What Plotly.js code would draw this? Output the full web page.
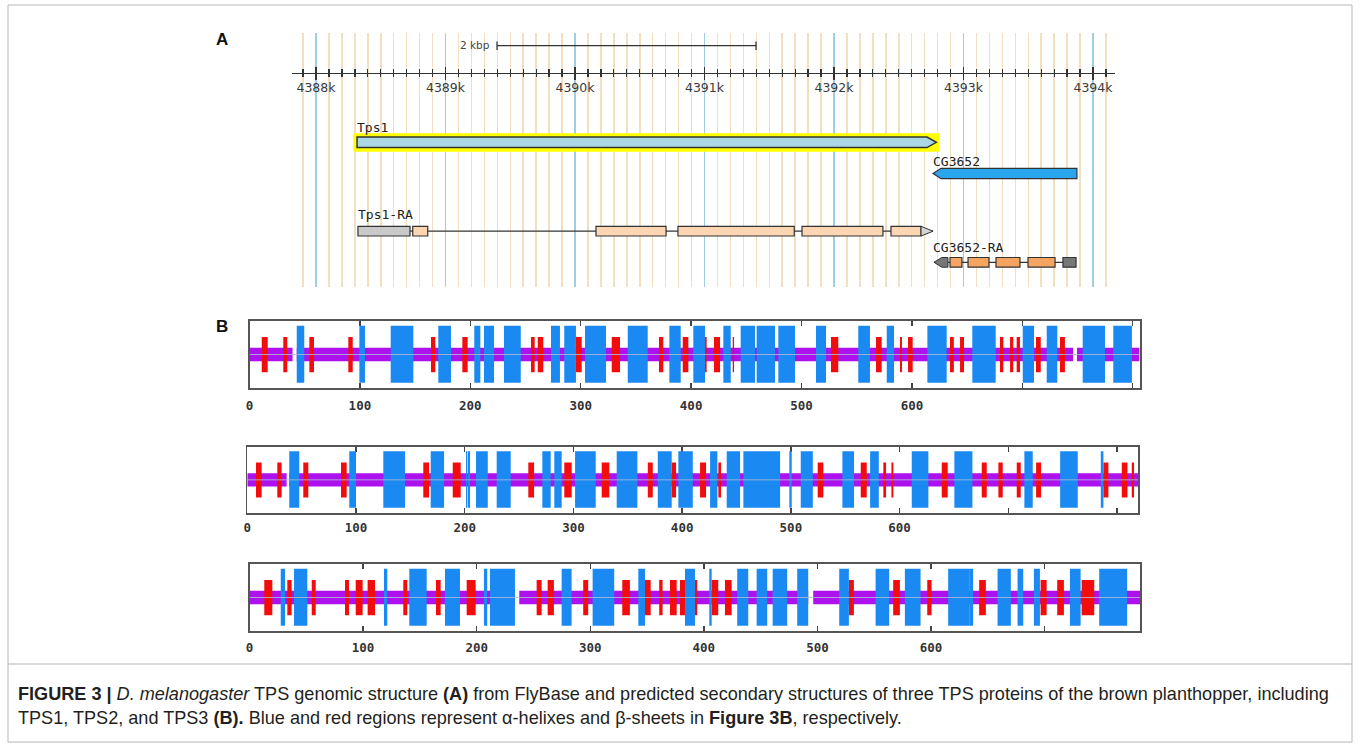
<!DOCTYPE html>
<html>
<head>
<meta charset="utf-8">
<script src="https://cdn.plot.ly/plotly-3.0.1.min.js"></script>
<style>html,body{margin:0;padding:0;background:#fff;}#chart{width:1360px;height:748px;}</style>
</head>
<body>
<div id="chart"></div>
<script>
// ---------- Panel A data (genomic coordinates in kb) ----------
const rulerTickVals = [4388, 4389, 4390, 4391, 4392, 4393, 4394];
const rulerTickLabels = ['4388k', '4389k', '4390k', '4391k', '4392k', '4393k', '4394k'];
const scaleBarKb = [4389.398, 4391.398];
const scaleBarLabel = '2 kbp';

const geneNames = ['Tps1', 'CG3652'];
const geneStart = [4388.317, 4392.765];
const geneEnd = [4392.790, 4393.876];
const geneStrand = ['+', '-'];

const transcriptNames = ['Tps1-RA', 'CG3652-RA'];
const tps1RA_utr5 = [[4388.324, 4388.726]];
const tps1RA_cds = [[4388.747, 4388.863], [4390.162, 4390.703], [4390.795, 4391.693], [4391.753, 4392.378], [4392.440, 4392.672]];
const tps1RA_utr3 = [[4392.672, 4392.765]];
const cg3652RA_utr3 = [[4392.772, 4392.880]];
const cg3652RA_cds = [[4392.896, 4392.988], [4393.035, 4393.197], [4393.251, 4393.436], [4393.498, 4393.707]];
const cg3652RA_utr5 = [[4393.768, 4393.869]];

// ---------- Panel B data (residue positions) ----------
const proteinNames = ['TPS1', 'TPS2', 'TPS3'];
const proteinLength = [806, 820, 784];
const trackTickVals = [0, 100, 200, 300, 400, 500, 600, 700, 800];
const trackTickText = ['0', '100', '200', '300', '400', '500', '600', '', ''];

const helix1 = [[42.8,49.6],[99.5,104.6],[127.9,148.4],[171.0,182.5],[203.6,209.1],[212.4,221.5],[230.5,245.7],[273.1,281.2],[285.1,295.7],[303.9,322.9],[342.6,360.7],[380.3,390.6],[402.0,412.6],[429.2,435.9],[444.9,457.9],[459.4,476.0],[479.0,494.1],[513.1,522.2],[551.4,562.0],[577.2,583.8],[614.0,631.5],[654.7,675.9],[700.4,710.6],[722.1,731.7],[754.7,774.9],[782.4,796.0],[795.7,799.3]];
const strand1 = [[11.1,16.5],[30.6,34.2],[54.2,58.4],[89.5,93.5],[164.4,168.3],[192.8,197.6],[255.0,258.3],[261.1,266.1],[295.7,300.9],[328.1,335.6],[370.9,374.8],[392.4,397.5],[412.6,414.1],[420.7,426.2],[437.7,438.9],[526.7,533.3],[567.5,572.6],[589.2,591.0],[596.5,600.7],[634.5,638.0],[643.6,647.2],[679.8,682.8],[688.9,691.8],[694.9,697.9],[712.4,716.7],[734.1,738.6]];
const coil1 = [[0,39],[42.8,746],[749.5,806]];

const helix2 = [[38.6,47.8],[93.8,100.0],[125.1,145.1],[168.7,181.0],[201.2,202.4],[203.0,204.9],[210.4,221.2],[229.4,242.3],[271.4,279.1],[282.4,289.2],[301.5,320.5],[339.8,358.8],[377.6,390.4],[396.5,409.8],[425.7,432.4],[441.0,453.3],[456.3,490.1],[498.6,500.8],[509.1,520.2],[547.4,558.1],[572.9,580.9],[611.2,626.5],[650.4,667.0],[714.8,722.5],[747.7,763.9],[785.1,787.5]];
const strand2 = [[8.0,13.2],[27.6,31.6],[51.5,56.1],[86.2,91.4],[161.9,167.2],[189.0,196.3],[258.5,263.8],[291.6,298.4],[326.0,333.0],[368.4,373.0],[390.4,394.4],[416.5,422.0],[433.3,435.8],[524.7,529.9],[564.3,569.8],[585.1,587.6],[592.5,594.3],[638.8,644.3],[675.6,680.2],[690.9,694.9],[707.8,711.5],[725.6,730.2],[787.5,792.1],[804.4,809.6],[813.6,815.7]];
const coil2 = [[0,36.2],[38.6,820]];

const helix3 = [[27.5,31.3],[39.2,50.9],[118.4,121.3],[140.7,156.0],[172.1,185.3],[206.4,209.3],[211.7,233.7],[274.8,283.6],[302.1,321.1],[342.3,348.2],[383.4,392.2],[404.8,406.9],[429.4,439.1],[446.5,455.8],[460.6,473.4],[482.2,491.9],[519.2,527.7],[551.2,563.2],[577.0,590.8],[615.1,633.6],[633.6,637.1],[658.6,670.3],[676.2,681.2],[690.6,695.9],[722.3,731.7],[748.1,772.7]];
const strand3 = [[13.0,20.1],[33.3,37.1],[54.8,58.3],[84.1,87.6],[93.5,99.6],[104.0,110.5],[135.4,138.9],[164.2,168.3],[191.2,199.1],[252.8,257.2],[262.5,268.0],[293.8,298.2],[328.2,334.9],[348.2,353.2],[360.7,363.7],[370.2,376.1],[379.0,383.4],[392.2,394.2],[406.9,412.7],[418.6,424.5],[527.7,532.1],[566.7,572.6],[596.7,600.5],[642.4,648.3],[696.5,701.8],[711.1,717.0],[732.6,743.7]];
const coil3 = [[0,233.7],[237.5,491.9],[496.3,784]];

// ---------- layout helpers ----------
const W = 1360, H = 748;
const px = v => v / W;
const py = v => 1 - v / H;

const shapes = [];
const annotations = [];

function rect(xr, yr, x0, x1, y0, y1, fill, lc, lw) {
  shapes.push({type: 'rect', xref: xr, yref: yr, x0: x0, x1: x1, y0: y0, y1: y1,
    fillcolor: fill, line: {color: lc || 'rgba(0,0,0,0)', width: lw || 0}, layer: 'above'});
}
function poly(xr, yr, pts, fill, lc, lw) {
  const d = 'M ' + pts.map(p => p[0] + ',' + p[1]).join(' L ') + ' Z';
  shapes.push({type: 'path', xref: xr, yref: yr, path: d, fillcolor: fill,
    line: {color: lc || 'rgba(0,0,0,0)', width: lw || 0}, layer: 'above'});
}
function line(xr, yr, x0, x1, y0, y1, color, width) {
  shapes.push({type: 'line', xref: xr, yref: yr, x0: x0, x1: x1, y0: y0, y1: y1,
    line: {color: color, width: width}, layer: 'above'});
}

// ---------- Panel A (y axis in row units, reversed) ----------
const OUT = '#333';
line('x', 'y', scaleBarKb[0], scaleBarKb[1], 45.7, 45.7, OUT, 1.3);
line('x', 'y', scaleBarKb[0], scaleBarKb[0], 41.5, 50, OUT, 1.3);
line('x', 'y', scaleBarKb[1], scaleBarKb[1], 41.5, 50, OUT, 1.3);
annotations.push({xref: 'x', yref: 'y', x: scaleBarKb[0], y: 45, xanchor: 'right', yanchor: 'middle', xshift: -5,
  text: scaleBarLabel, showarrow: false, font: {family: 'DejaVu Sans', size: 10.5, color: '#444'}});

const headA = 0.072;
rect('x', 'y', geneStart[0] - 0.029, geneEnd[0] + 0.022, 133.3, 151.8, '#ffff00');
poly('x', 'y', [[geneStart[0], 137], [geneEnd[0] - headA, 137], [geneEnd[0], 142.3], [geneEnd[0] - headA, 147.6], [geneStart[0], 147.6]], '#acd8e6', OUT, 1.5);
annotations.push({xref: 'x', yref: 'y', x: geneStart[0], y: 127.5, xanchor: 'left', yanchor: 'middle', xshift: -2,
  text: geneNames[0], showarrow: false, font: {family: 'DejaVu Sans Mono', size: 13, color: '#222'}});
poly('x', 'y', [[geneStart[1], 173.5], [geneStart[1] + 0.062, 168.3], [geneEnd[1], 168.3], [geneEnd[1], 178.7], [geneStart[1] + 0.062, 178.7]], '#2aa6ee', OUT, 1.2);
annotations.push({xref: 'x', yref: 'y', x: geneStart[1], y: 161.5, xanchor: 'left', yanchor: 'middle', xshift: -2,
  text: geneNames[1], showarrow: false, font: {family: 'DejaVu Sans Mono', size: 13, color: '#222'}});

const r3top = 226.3, r3bot = 236, r3mid = 231.2;
line('x', 'y', tps1RA_utr5[0][0], tps1RA_utr3[0][1], r3mid, r3mid, OUT, 1.2);
tps1RA_utr5.forEach(e => rect('x', 'y', e[0], e[1], r3top, r3bot, '#c9c9c9', OUT, 1.2));
tps1RA_cds.forEach(e => rect('x', 'y', e[0], e[1], r3top, r3bot, '#fcd5b2', OUT, 1.2));
tps1RA_utr3.forEach(e => poly('x', 'y', [[e[0], r3top], [e[1], r3mid], [e[0], r3bot]], '#d4d4d4', OUT, 1));
annotations.push({xref: 'x', yref: 'y', x: tps1RA_utr5[0][0], y: 215, xanchor: 'left', yanchor: 'middle', xshift: -2,
  text: transcriptNames[0], showarrow: false, font: {family: 'DejaVu Sans Mono', size: 13, color: '#222'}});

const r4top = 257.5, r4bot = 267.2, r4mid = 262.3;
line('x', 'y', cg3652RA_utr3[0][0], cg3652RA_utr5[0][1], r4mid, r4mid, OUT, 1.2);
cg3652RA_utr3.forEach(e => poly('x', 'y', [[e[0], r4mid], [e[0] + 0.06, r4top], [e[1], r4top], [e[1], r4bot], [e[0] + 0.06, r4bot]], '#777', OUT, 1));
cg3652RA_cds.forEach(e => rect('x', 'y', e[0], e[1], r4top, r4bot, '#f5a462', OUT, 1.2));
cg3652RA_utr5.forEach(e => rect('x', 'y', e[0], e[1], r4top, r4bot, '#777', OUT, 1.2));
annotations.push({xref: 'x', yref: 'y', x: cg3652RA_utr3[0][0], y: 247.5, xanchor: 'left', yanchor: 'middle', xshift: -3,
  text: transcriptNames[1], showarrow: false, font: {family: 'DejaVu Sans Mono', size: 13, color: '#222'}});

// ---------- Panel B tracks ----------
const HELIX = '#1a8af2', STRAND = '#f20c0c', COIL = '#ad12ee';
const tracks = [
  {xa: 'x2', ya: 'y2', helix: helix1, strand: strand1, coil: coil1, L: proteinLength[0]},
  {xa: 'x3', ya: 'y3', helix: helix2, strand: strand2, coil: coil2, L: proteinLength[1]},
  {xa: 'x4', ya: 'y4', helix: helix3, strand: strand3, coil: coil3, L: proteinLength[2]}
];
tracks.forEach(t => {
  t.coil.forEach(s => rect(t.xa, t.ya, s[0], s[1], 0.4, 0.6, COIL));
  t.strand.forEach(s => rect(t.xa, t.ya, s[0], s[1], 0.235, 0.76, STRAND));
  t.helix.forEach(s => rect(t.xa, t.ya, s[0], s[1], 0.08, 0.93, HELIX));
  line(t.xa, t.ya, 0, t.L, 0.5, 0.5, 'rgba(175,185,215,0.85)', 1);
});

// ---------- panel letters, caption, frame ----------
annotations.push({xref: 'paper', yref: 'paper', x: px(222), y: py(40), text: '<b>A</b>', showarrow: false,
  xanchor: 'center', yanchor: 'middle', font: {family: 'Liberation Sans', size: 17, color: '#111'}});
annotations.push({xref: 'paper', yref: 'paper', x: px(222), y: py(326), text: '<b>B</b>', showarrow: false,
  xanchor: 'center', yanchor: 'middle', font: {family: 'Liberation Sans', size: 17, color: '#111'}});

const captionLine1 = '<b>FIGURE 3 |</b> <i>D. melanogaster</i> TPS genomic structure <b>(A)</b> from FlyBase and predicted secondary structures of three TPS proteins of the brown planthopper, including';
const captionLine2 = 'TPS1, TPS2, and TPS3 <b>(B).</b> Blue and red regions represent α-helixes and β-sheets in <b>Figure 3B</b>, respectively.';
annotations.push({xref: 'paper', yref: 'paper', x: px(16), y: py(694), text: captionLine1, showarrow: false,
  xanchor: 'left', yanchor: 'middle', font: {family: 'Liberation Sans', size: 18.1, color: '#231f20'}});
annotations.push({xref: 'paper', yref: 'paper', x: px(16), y: py(718), text: captionLine2, showarrow: false,
  xanchor: 'left', yanchor: 'middle', font: {family: 'Liberation Sans', size: 18.1, color: '#231f20'}});

shapes.push({type: 'rect', xref: 'paper', yref: 'paper', x0: px(8), x1: px(1352), y0: py(742), y1: py(5),
  line: {color: '#b5b5b5', width: 1}, fillcolor: 'rgba(0,0,0,0)', layer: 'above'});
shapes.push({type: 'line', xref: 'paper', yref: 'paper', x0: px(8), x1: px(1352), y0: py(664), y1: py(664),
  line: {color: '#b5b5b5', width: 1}, layer: 'above'});

// ---------- axes ----------
const aDomainX = [px(292), px(1115)];
const aRange = [4387.8147, 4394.1699];
const rulerPos = py(72.7);

function trackXAxis(domX, L, standoff) {
  return {domain: domX, range: [0, L], showgrid: false, zeroline: false, showline: true, mirror: 'ticks',
    linecolor: '#555', linewidth: 1.6, ticks: 'inside', ticklen: 5, tickwidth: 1.4, tickcolor: '#444',
    tickmode: 'array', tickvals: trackTickVals, ticktext: trackTickText, ticklabelstandoff: standoff,
    tickfont: {family: 'DejaVu Sans Mono', size: 12.5, color: '#333', weight: 'bold'}, fixedrange: true};
}
function trackYAxis(domY, anchor) {
  return {domain: domY, range: [0, 1], anchor: anchor, showgrid: false, zeroline: false, showline: true, mirror: true,
    linecolor: '#555', linewidth: 1.6, ticks: '', showticklabels: false, fixedrange: true};
}

const layout = {
  width: W, height: H, margin: {l: 0, r: 0, t: 0, b: 0}, showlegend: false,
  paper_bgcolor: '#ffffff', plot_bgcolor: 'rgba(0,0,0,0)',
  xaxis: {domain: aDomainX, range: aRange, anchor: 'free', position: rulerPos, side: 'bottom',
    showline: true, linecolor: '#333', linewidth: 1.5, zeroline: false,
    showgrid: true, gridcolor: '#9fcde2', gridwidth: 1.5,
    tickmode: 'array', tickvals: rulerTickVals, ticktext: rulerTickLabels,
    ticks: 'inside', ticklen: 6, tickwidth: 1.5, tickcolor: '#333', ticklabelstandoff: 3,
    tickfont: {family: 'DejaVu Sans', size: 12.5, color: '#3a3a3a'},
    minor: {tickmode: 'linear', tick0: 4388, dtick: 0.1, ticks: 'inside', ticklen: 3.5, tickwidth: 1.3, tickcolor: '#333',
      showgrid: true, gridcolor: '#f1dfbf', gridwidth: 1.5},
    fixedrange: true},
  xaxis5: {domain: aDomainX, range: aRange, overlaying: 'x', anchor: 'free', position: rulerPos, side: 'bottom',
    showline: false, zeroline: false, showgrid: false, showticklabels: false,
    tickmode: 'array', tickvals: rulerTickVals, ticks: 'outside', ticklen: 6, tickwidth: 1.5, tickcolor: '#333',
    minor: {tickmode: 'linear', tick0: 4388, dtick: 0.1, ticks: 'outside', ticklen: 3.5, tickwidth: 1.3, tickcolor: '#333', showgrid: false},
    fixedrange: true},
  yaxis: {domain: [py(287), py(33)], range: [287, 33], showgrid: false, zeroline: false, showline: false,
    showticklabels: false, ticks: '', fixedrange: true},
  xaxis2: trackXAxis([px(249.5), px(1140)], 806.6, 5),
  yaxis2: trackYAxis([py(388), py(321)], 'x2'),
  xaxis3: trackXAxis([px(247.3), px(1138.3)], 819.6, 2),
  yaxis3: trackYAxis([py(513), py(446.7)], 'x3'),
  xaxis4: trackXAxis([px(249.5), px(1140)], 784, 4),
  yaxis4: trackYAxis([py(631), py(564)], 'x4'),
  shapes: shapes,
  annotations: annotations
};
layout.xaxis2.anchor = 'y2';
layout.xaxis3.anchor = 'y3';
layout.xaxis4.anchor = 'y4';

const traces = [
  {type: 'scatter', x: [geneStart[0]], y: [140], xaxis: 'x', yaxis: 'y', mode: 'markers', marker: {opacity: 0}, hoverinfo: 'skip'},
  {type: 'scatter', x: [geneStart[0]], y: [140], xaxis: 'x5', yaxis: 'y', mode: 'markers', marker: {opacity: 0}, hoverinfo: 'skip'},
  {type: 'scatter', x: [0], y: [0.5], xaxis: 'x2', yaxis: 'y2', mode: 'markers', marker: {opacity: 0}, hoverinfo: 'skip'},
  {type: 'scatter', x: [0], y: [0.5], xaxis: 'x3', yaxis: 'y3', mode: 'markers', marker: {opacity: 0}, hoverinfo: 'skip'},
  {type: 'scatter', x: [0], y: [0.5], xaxis: 'x4', yaxis: 'y4', mode: 'markers', marker: {opacity: 0}, hoverinfo: 'skip'}
];

Plotly.newPlot('chart', traces, layout, {staticPlot: true, displayModeBar: false});
</script>
</body>
</html>
